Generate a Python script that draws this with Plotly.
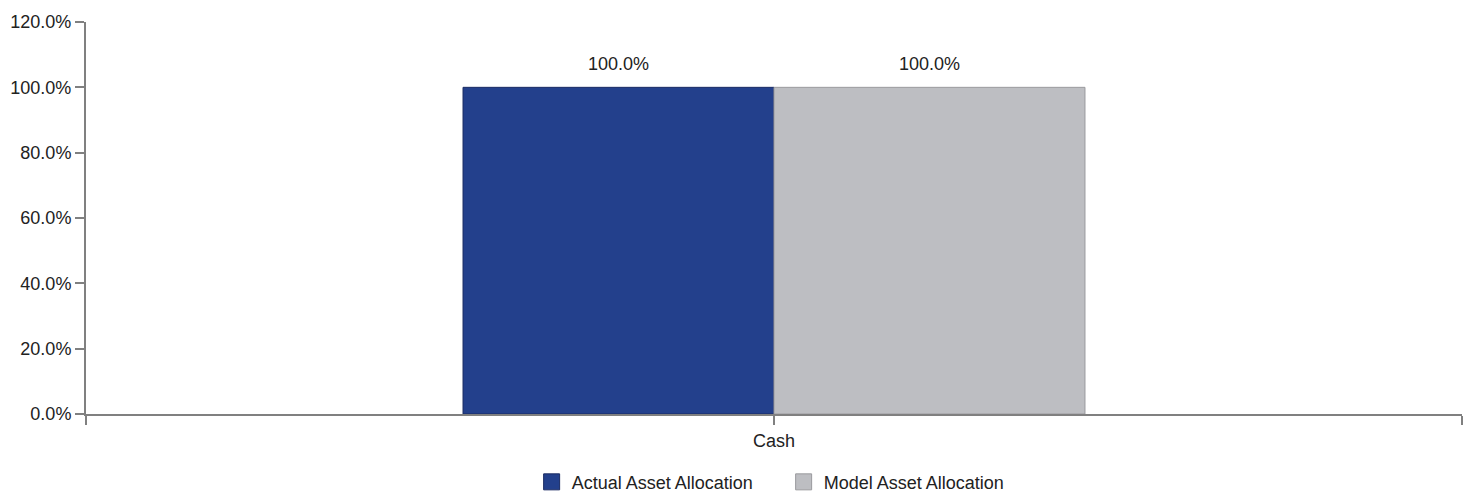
import plotly.graph_objects as go

categories = ["Cash"]
actual_values = [100.0]
model_values = [100.0]
series_names = ["Actual Asset Allocation", "Model Asset Allocation"]
series_colors = ["#23408C", "#BDBEC2"]
series_edges = ["#1A2B63", "#9A9A9E"]
y_tick_vals = [0, 20, 40, 60, 80, 100, 120]
y_tick_text = ["0.0%", "20.0%", "40.0%", "60.0%", "80.0%", "100.0%", "120.0%"]

FONT = "Liberation Sans, Arial, sans-serif"
FS = 18
BAR_W = 0.226
x_pos = list(range(len(categories)))

fig = go.Figure()
for i, (vals, off) in enumerate([(actual_values, -BAR_W), (model_values, 0)]):
    fig.add_trace(go.Bar(
        x=x_pos, y=vals, name=series_names[i], showlegend=False,
        legendgroup=series_names[i],
        marker=dict(color=series_colors[i], line=dict(color=series_edges[i], width=1)),
        width=BAR_W, offset=off,
    ))
    # legend entry with a larger square swatch
    fig.add_trace(go.Scatter(
        x=[None], y=[None], mode="markers", name=series_names[i],
        legendgroup=series_names[i], showlegend=True,
        marker=dict(symbol="square", size=16, color=series_colors[i],
                    line=dict(color=series_edges[i], width=1)),
    ))

for xi, v in zip(x_pos, actual_values):
    fig.add_annotation(x=xi - BAR_W / 2, y=v, text=f"{v:.1f}%", showarrow=False,
                       yanchor="bottom", yshift=11, xref="x", yref="y",
                       font=dict(size=FS, color="#222222", family=FONT))
for xi, v in zip(x_pos, model_values):
    fig.add_annotation(x=xi + BAR_W / 2, y=v, text=f"{v:.1f}%", showarrow=False,
                       yanchor="bottom", yshift=11, xref="x", yref="y",
                       font=dict(size=FS, color="#222222", family=FONT))

fig.update_layout(
    width=1472, height=493,
    margin=dict(l=86, r=10, t=22, b=79, autoexpand=False),
    plot_bgcolor="white", paper_bgcolor="white",
    font=dict(family=FONT, size=FS, color="#222222"),
    showlegend=True,
    legend=dict(orientation="h", x=0.507, xanchor="center", yref="container",
                y=0.022, yanchor="middle", font=dict(size=FS),
                traceorder="normal", entrywidth=207, entrywidthmode="pixels"),
    xaxis=dict(range=[-0.5, len(categories) - 0.5], automargin=False,
               tickvals=[-0.5] + x_pos + [len(categories) - 0.5],
               ticktext=[""] + categories + [""],
               showgrid=False, zeroline=False, showline=True,
               linecolor="#808080", linewidth=2,
               ticks="outside", ticklen=9, tickwidth=2, tickcolor="#808080",
               tickfont=dict(size=FS)),
    yaxis=dict(range=[0, 120], tickvals=y_tick_vals, ticktext=y_tick_text,
               automargin=False,
               showgrid=False, zeroline=False, showline=True,
               linecolor="#808080", linewidth=2,
               ticks="outside", ticklen=9, tickwidth=2, tickcolor="#808080",
               tickfont=dict(size=FS)),
)

fig.write_html("out.html", config={"displayModeBar": False},
               post_script="document.body.style.margin='0';document.body.style.overflow='hidden';")
